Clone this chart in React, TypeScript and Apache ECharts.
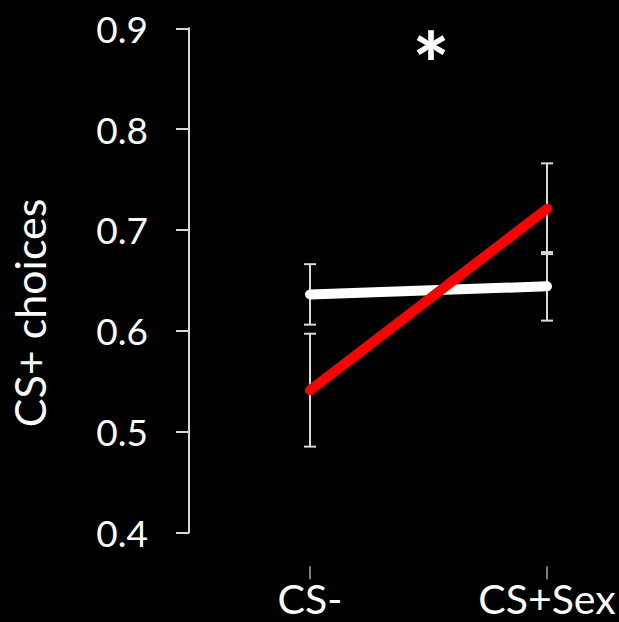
import React, { useEffect, useRef } from "react";
import * as echarts from "echarts";

const categories = ["CS-", "CS+Sex"];
const whiteMeans = [0.636, 0.644];
const whiteErrors = [0.030, 0.034];
const redMeans = [0.541, 0.721];
const redErrors = [0.056, 0.045];
const yTicks = { min: 0.4, max: 0.9, interval: 0.1 };
const yName = "CS+ choices";
const marker = "*";

const FONT = "Lato, 'Open Sans', sans-serif";

export default function App() {
  const ref = useRef<HTMLDivElement>(null);
  useEffect(() => {
    if (!ref.current) return;
    const chart = echarts.init(ref.current, undefined, { renderer: "svg" });
    const errData = [
      ...whiteMeans.map((m, i) => [i, m - whiteErrors[i], m + whiteErrors[i]]),
      ...redMeans.map((m, i) => [i, m - redErrors[i], m + redErrors[i]]),
    ];
    chart.setOption({
      animation: false,
      backgroundColor: "#000000",
      grid: { left: 310, right: 72, top: 28.3, bottom: 89.7 },
      xAxis: {
        type: "category",
        data: categories,
        boundaryGap: false,
        offset: 34,
        axisLine: { show: false },
        axisTick: { show: true, length: 13, lineStyle: { color: "#a6a6a6", width: 1.5 } },
        axisLabel: { color: "#ffffff", fontSize: 41, lineHeight: 36, fontFamily: FONT, margin: 14 },
        splitLine: { show: false },
      },
      yAxis: {
        type: "value",
        min: yTicks.min,
        max: yTicks.max,
        interval: yTicks.interval,
        offset: 121,
        axisLine: { show: true, lineStyle: { color: "#d9d9d9", width: 2 } },
        axisTick: { show: true, length: 13, lineStyle: { color: "#d9d9d9", width: 2 } },
        axisLabel: {
          color: "#ffffff",
          fontSize: 37,
          fontFamily: FONT,
          margin: 41,
          formatter: (v: number) => v.toFixed(1),
        },
        splitLine: { show: false },
      },
      graphic: [
        {
          type: "text",
          x: 29,
          y: 313,
          rotation: Math.PI / 2,
          style: {
            text: yName,
            fill: "#ffffff",
            font: `43px ${FONT}`,
            textAlign: "center",
            textVerticalAlign: "middle",
          },
        },
        {
          type: "text",
          x: 431,
          y: 62,
          style: {
            text: marker,
            fill: "#ffffff",
            font: `900 86px ${FONT}`,
            textAlign: "center",
            textVerticalAlign: "middle",
          },
        },
      ],
      series: [
        {
          type: "custom",
          z: 1,
          data: errData,
          renderItem: (params: any, api: any) => {
            const x = api.value(0);
            const lo = api.coord([x, api.value(1)]);
            const hi = api.coord([x, api.value(2)]);
            const hw = 6;
            const style = { stroke: "#d9d9d9", lineWidth: 2 };
            return {
              type: "group",
              children: [
                { type: "line", shape: { x1: lo[0], y1: lo[1], x2: hi[0], y2: hi[1] }, style },
                { type: "line", shape: { x1: lo[0] - hw, y1: lo[1], x2: lo[0] + hw, y2: lo[1] }, style },
                { type: "line", shape: { x1: hi[0] - hw, y1: hi[1], x2: hi[0] + hw, y2: hi[1] }, style },
              ],
            };
          },
        },
        {
          type: "line",
          z: 3,
          data: whiteMeans,
          symbol: "none",
          lineStyle: { color: "#ffffff", width: 10, cap: "round" },
        },
        {
          type: "line",
          z: 4,
          data: redMeans,
          symbol: "none",
          lineStyle: { color: "#ff0000", width: 10, cap: "round" },
        },
      ],
    });
    return () => chart.dispose();
  }, []);
  return (
    <div
      ref={ref}
      style={{ position: "fixed", left: 0, top: 0, width: 619, height: 622, background: "#000" }}
    />
  );
}
